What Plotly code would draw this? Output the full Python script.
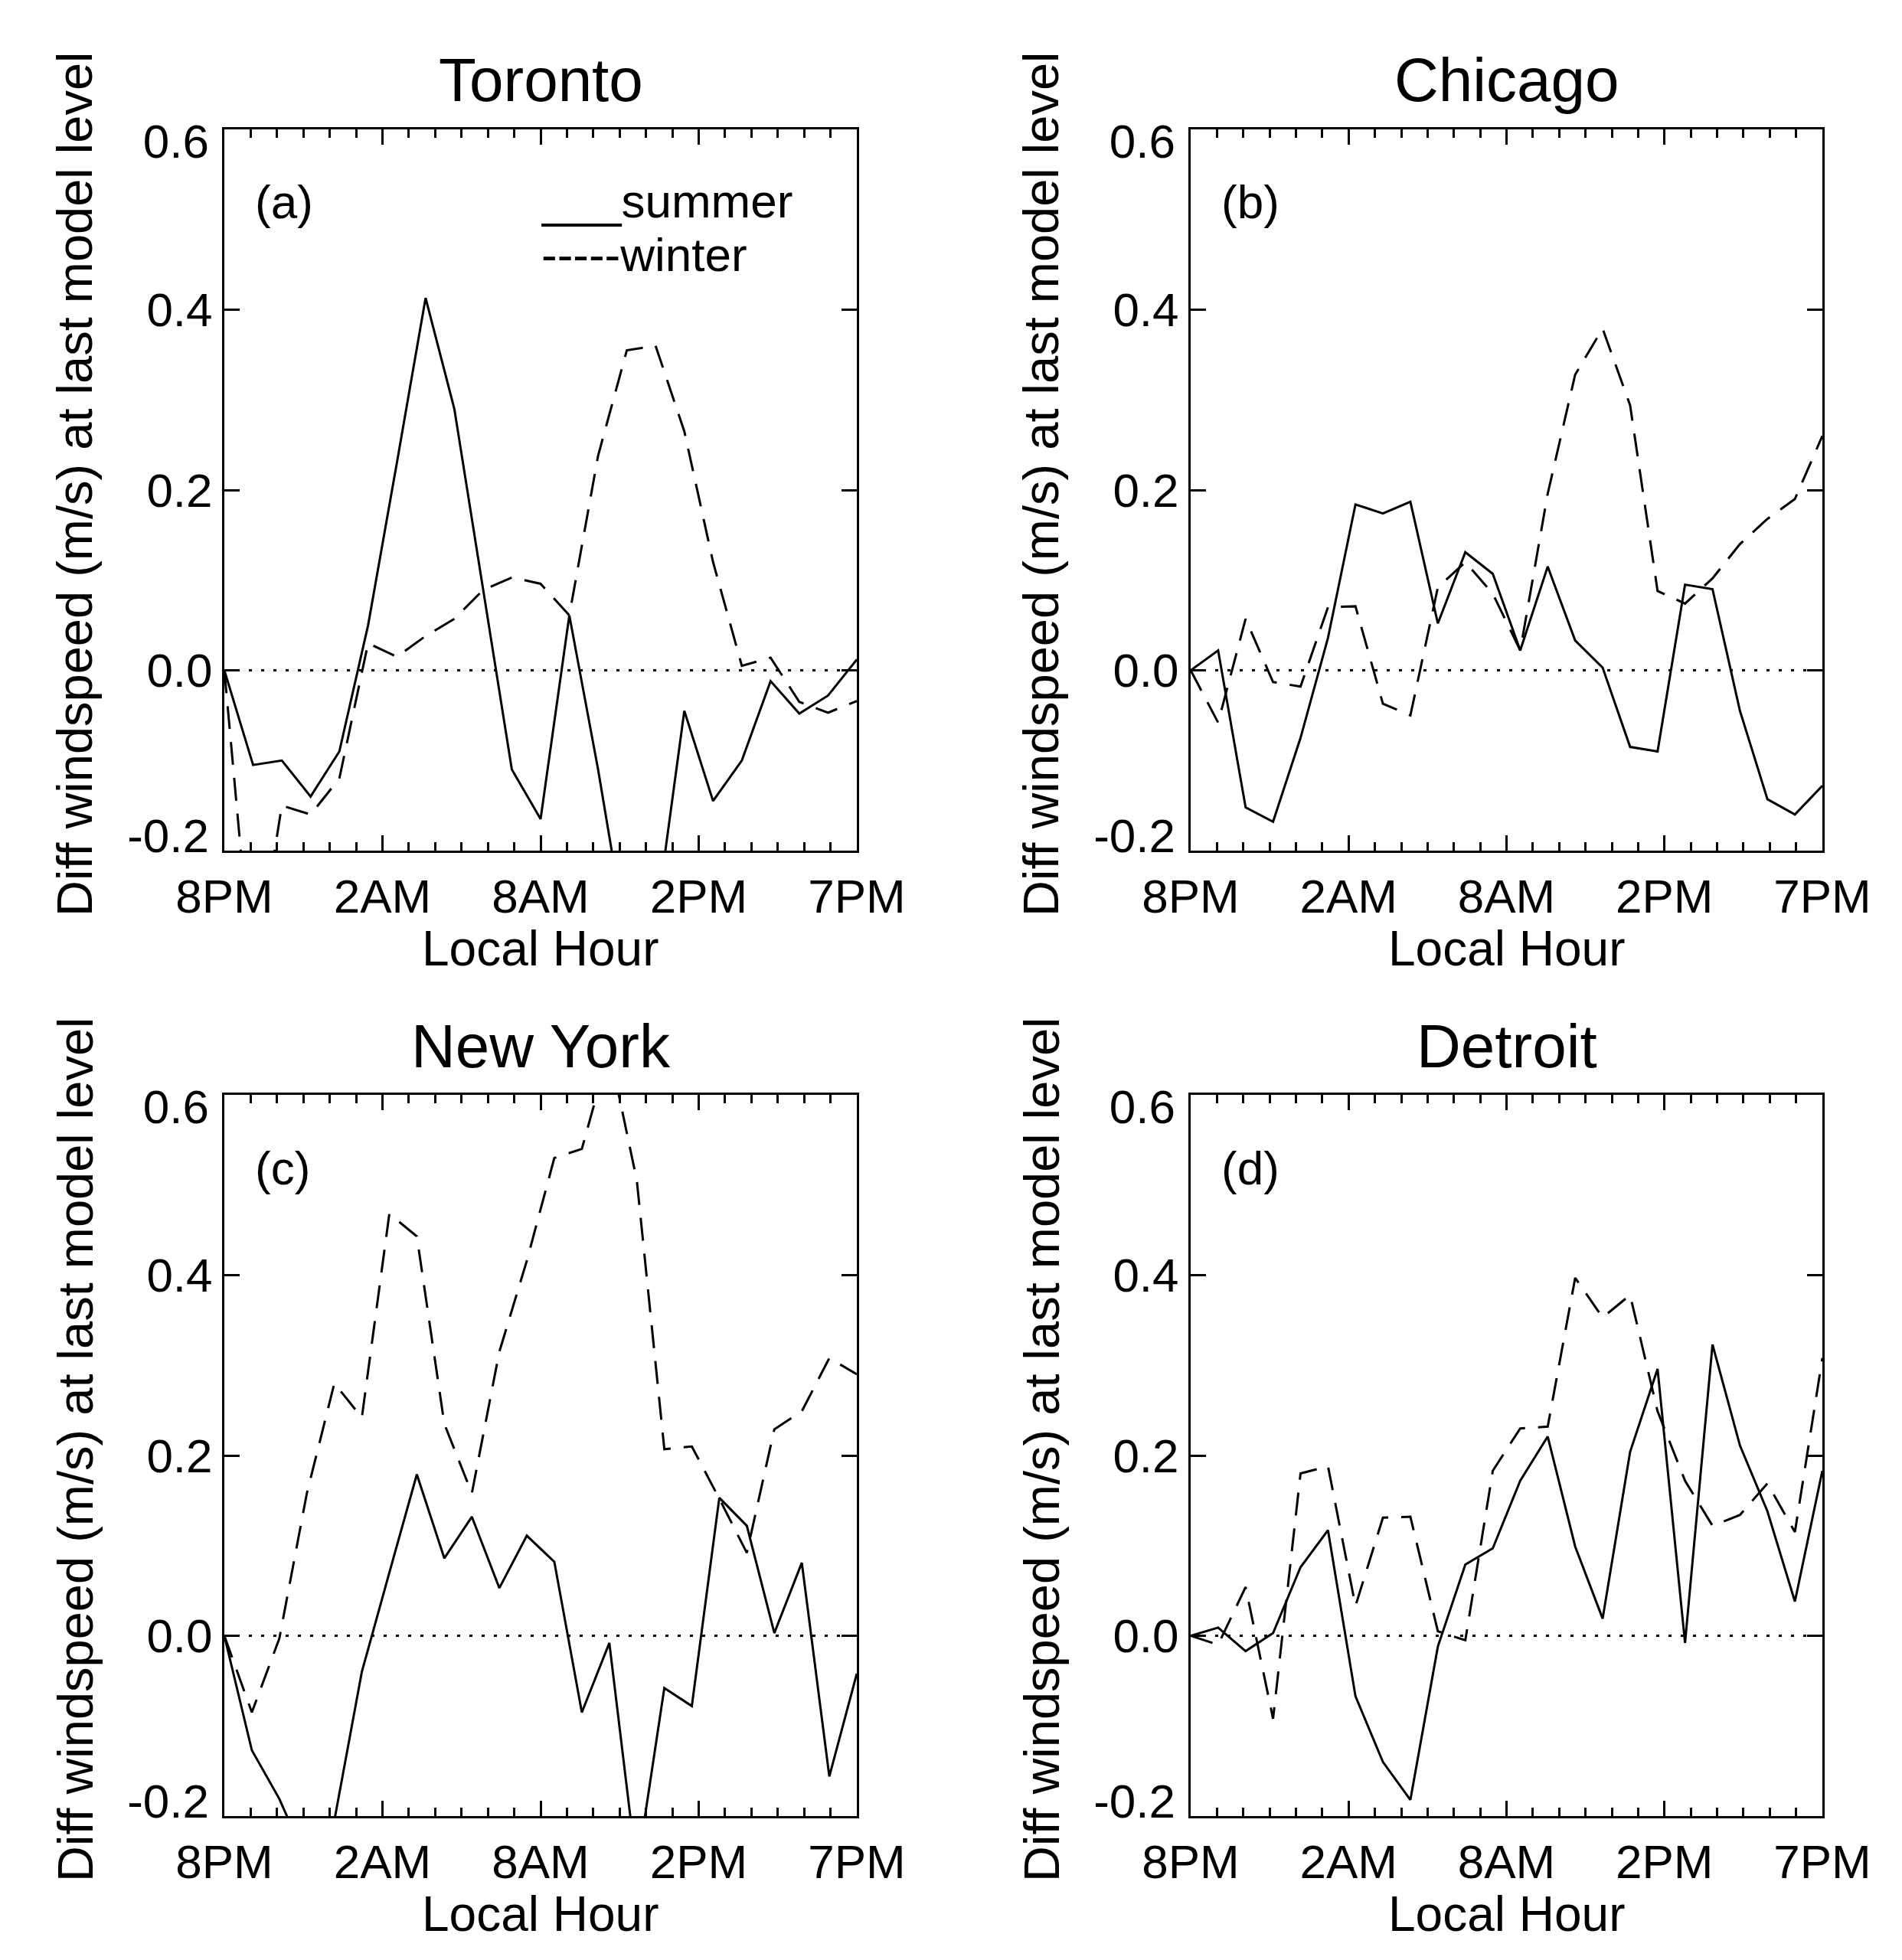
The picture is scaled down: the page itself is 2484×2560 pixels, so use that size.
import plotly.graph_objects as go

W, H = 2484, 2560
PAD = 8  # default page body margin
FW, FH = W - 2 * PAD, H - 2 * PAD
FONT = "Liberation Sans, Arial, Helvetica, sans-serif"

cities = ["Toronto", "Chicago", "New York", "Detroit"]
panel_labels = ["(a)", "(b)", "(c)", "(d)"]
x_tick_labels = ["8PM", "2AM", "8AM", "2PM", "7PM"]
y_tick_values = [-0.2, 0.0, 0.2, 0.4, 0.6]
y_tick_labels = ["-0.2", "0.0", "0.2", "0.4", "0.6"]
y_axis_title = "Diff windspeed (m/s) at last model level"
x_axis_title = "Local Hour"
legend_summer = "___summer"
legend_winter = "-----winter"

toronto_summer = [0.0, -0.105, -0.10, -0.14, -0.09, 0.05, 0.23, 0.413, 0.29, 0.09, -0.11, -0.165,
                  0.061, -0.11, -0.30, -0.28, -0.045, -0.145, -0.10, -0.012, -0.048, -0.028, 0.012]
toronto_winter = [0.0, -0.35, -0.15, -0.16, -0.12, 0.03, 0.015, 0.038, 0.057, 0.089, 0.103, 0.096,
                  0.061, 0.238, 0.355, 0.36, 0.265, 0.12, 0.005, 0.014, -0.035, -0.047, -0.034]

chicago_summer = [0.0, 0.022, -0.152, -0.168, -0.075, 0.036, 0.184, 0.174, 0.187, 0.052, 0.131, 0.107,
                  0.022, 0.115, 0.033, 0.003, -0.085, -0.09, 0.095, 0.09, -0.045, -0.143, -0.16, -0.128]
chicago_winter = [0.0, -0.058, 0.057, -0.013, -0.018, 0.07, 0.071, -0.037, -0.05, 0.092, 0.12, 0.085,
                  0.022, 0.196, 0.328, 0.379, 0.294, 0.088, 0.074, 0.102, 0.14, 0.168, 0.19, 0.26]

newyork_summer = [0.0, -0.127, -0.181, -0.25, -0.205, -0.04, 0.07, 0.179, 0.086, 0.132, 0.053, 0.111,
                  0.082, -0.085, -0.008, -0.26, -0.058, -0.078, 0.153, 0.122, 0.003, 0.081, -0.156, -0.042]
newyork_winter = [0.0, -0.085, -0.003, 0.158, 0.28, 0.242, 0.468, 0.443, 0.235, 0.158, 0.315, 0.416,
                  0.53, 0.54, 0.65, 0.505, 0.207, 0.21, 0.152, 0.092, 0.229, 0.249, 0.308, 0.29]

detroit_summer = [0.0, 0.009, -0.017, 0.003, 0.076, 0.117, -0.067, -0.14, -0.182, -0.012, 0.079, 0.097,
                  0.172, 0.221, 0.099, 0.019, 0.204, 0.296, -0.008, 0.323, 0.211, 0.138, 0.038, 0.183]
detroit_winter = [0.0, -0.01, 0.054, -0.092, 0.18, 0.188, 0.033, 0.131, 0.132, 0.005, -0.005, 0.183,
                  0.23, 0.232, 0.397, 0.353, 0.378, 0.249, 0.172, 0.122, 0.134, 0.169, 0.115, 0.308]

summer_series = [toronto_summer, chicago_summer, newyork_summer, detroit_summer]
winter_series = [toronto_winter, chicago_winter, newyork_winter, detroit_winter]


def px(v):
    return (v - PAD) / FW


def py(v):
    return 1 - (v - PAD) / FH


# plot-area pixel boxes in page pixels: (left, right) and (top, bottom)
col_px = [(293, 1119), (1555, 2380)]
row_px = [(169, 1111), (1430, 2372)]

fig = go.Figure()
layout = dict(
    width=FW, height=FH, margin=dict(l=0, r=0, t=0, b=0, autoexpand=False),
    paper_bgcolor="white", plot_bgcolor="white", showlegend=False,
    font=dict(family=FONT, color="black", size=62),
)
annotations = []
shapes = []
extra = 5
tickfont = dict(family=FONT, size=62, color="black")

for i, city in enumerate(cities):
    r, c = divmod(i, 2)
    xl, xr = col_px[c]
    yt, yb = row_px[r]
    sfx = "" if i == 0 else str(i + 1)
    xname, yname = "x" + sfx, "y" + sfx
    summer = summer_series[i]
    winter = winter_series[i]
    hours = list(range(len(summer)))
    xmax = hours[-1]

    fig.add_trace(go.Scatter(x=hours, y=winter, mode="lines", xaxis=xname, yaxis=yname,
                             hoverinfo="skip",
                             line=dict(color="black", width=3, dash="30px,17px")))
    fig.add_trace(go.Scatter(x=hours, y=summer, mode="lines", xaxis=xname, yaxis=yname,
                             hoverinfo="skip", line=dict(color="black", width=3)))

    layout["xaxis" + sfx] = dict(
        domain=[px(xl), px(xr)], range=[0, xmax], anchor=yname, automargin=False,
        tickmode="array", tickvals=[xmax * f for f in (0, 0.25, 0.5, 0.75, 1.0)],
        ticktext=x_tick_labels, ticks="inside", ticklen=20, tickwidth=3, tickcolor="black",
        showline=True, linewidth=3, linecolor="black", mirror="ticks",
        showgrid=False, zeroline=False, tickfont=tickfont, ticklabelstandoff=4,
        minor=dict(ticks="inside", ticklen=11, tickwidth=3, tickcolor="black",
                   dtick=xmax / 24, tick0=0, showgrid=False),
    )
    layout["yaxis" + sfx] = dict(
        domain=[py(yb), py(yt)], range=[-0.2, 0.6], anchor=xname, automargin=False,
        tickmode="array", tickvals=y_tick_values,
        ticktext=[t if 0 < k < len(y_tick_labels) - 1 else "" for k, t in enumerate(y_tick_labels)],
        ticks="inside", ticklen=20, tickwidth=3, tickcolor="black",
        showline=True, linewidth=3, linecolor="black", mirror="ticks",
        showgrid=False, zeroline=False, tickfont=tickfont, ticklabelstandoff=0,
    )
    # end labels, nudged inward like the original
    for k, shift in ((len(y_tick_values) - 1, 15), (0, -20)):
        yn = "y" + str(extra)
        layout["yaxis" + str(extra)] = dict(
            overlaying=yname, anchor=xname, side="left", range=[-0.2, 0.6], automargin=False,
            tickmode="array", tickvals=[y_tick_values[k]], ticktext=[y_tick_labels[k]],
            ticks="", showline=False, showgrid=False, zeroline=False,
            tickfont=tickfont, ticklabelstandoff=19, ticklabelshift=shift,
        )
        fig.add_trace(go.Scatter(x=[hours[0]], y=[None], mode="lines", xaxis=xname, yaxis=yn,
                                 hoverinfo="skip", showlegend=False))
        extra += 1

    shapes.append(dict(type="line", xref=xname + " domain", x0=0, x1=1, yref=yname, y0=0, y1=0,
                       line=dict(color="black", width=3, dash="4px,12px")))

    cx = (xl + xr) / 2
    annotations.append(dict(text=city, x=px(cx), y=py(yt - 64), xref="paper", yref="paper",
                            xanchor="center", yanchor="middle", showarrow=False,
                            font=dict(family=FONT, size=80, color="black")))
    annotations.append(dict(text=panel_labels[i], x=px(xl + 38), y=py(yt + 95), xref="paper",
                            yref="paper", xanchor="left", yanchor="middle", showarrow=False,
                            font=dict(family=FONT, size=62, color="black")))
    annotations.append(dict(text=x_axis_title, x=px(cx), y=py(yb + 128), xref="paper",
                            yref="paper", xanchor="center", yanchor="middle", showarrow=False,
                            font=dict(family=FONT, size=64, color="black")))
    annotations.append(dict(text=y_axis_title, x=px(xl - 195), y=py((yt + yb) / 2 - 8),
                            xref="paper", yref="paper", xanchor="center", yanchor="middle",
                            textangle=-90, showarrow=False,
                            font=dict(family=FONT, size=65, color="black")))

annotations.append(dict(text=legend_summer, x=px(705), y=py(262), xref="paper", yref="paper",
                        xanchor="left", yanchor="middle", showarrow=False,
                        font=dict(family=FONT, size=62, color="black")))
annotations.append(dict(text=legend_winter, x=px(705), y=py(332), xref="paper", yref="paper",
                        xanchor="left", yanchor="middle", showarrow=False,
                        font=dict(family=FONT, size=62, color="black")))

layout["annotations"] = annotations
layout["shapes"] = shapes
fig.update_layout(**layout)
fig.write_html("out.html")
